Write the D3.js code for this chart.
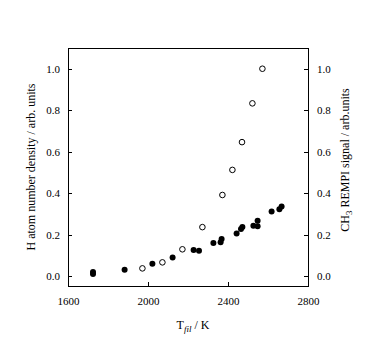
<!DOCTYPE html>
<html><head><meta charset="utf-8">
<script src="https://cdn.jsdelivr.net/npm/d3@7"></script>
<style>body{margin:0;background:#fff}svg text{font-family:"Liberation Serif","Times New Roman",serif;fill:#000}</style>
</head><body>
<svg id="c" width="380" height="357"></svg>
<script>
const filledT = [1725,1725,1883,2022,2123,2228,2255,2327,2363,2368,2443,2465,2472,2527,2548,2548,2618,2657,2668];
const filledV = [0.010,0.020,0.030,0.059,0.089,0.126,0.122,0.160,0.163,0.179,0.205,0.227,0.236,0.243,0.267,0.240,0.311,0.322,0.336];
const openT = [1972,2072,2172,2272,2372,2422,2470,2522,2572];
const openV = [0.037,0.066,0.129,0.236,0.391,0.512,0.646,0.833,1.000];
const xTicks = [1600,2000,2400,2800];
const yTicks = [0,0.2,0.4,0.6,0.8,1.0];

const L=68,R=308,T=48,B=286;
const svg=d3.select("#c");
const x=d3.scaleLinear().domain([1600,2800]).range([L,R]);
const y=d3.scaleLinear().domain([-0.048,1.10]).range([B,T]);

svg.append("rect").attr("x",L).attr("y",T).attr("width",R-L).attr("height",B-T)
  .attr("fill","none").attr("stroke","#000").attr("stroke-width",1).attr("shape-rendering","crispEdges");

function styleAxis(g){g.select(".domain").remove();g.selectAll("line").attr("stroke","#000").attr("shape-rendering","crispEdges");
  g.selectAll("text").style("font-size","11px").style("font-family","Liberation Serif");}

svg.append("g").attr("transform",`translate(0,${B})`)
  .call(d3.axisTop(x).tickValues(xTicks).tickSize(4).tickFormat(d3.format("d")))
  .call(styleAxis).call(g=>g.selectAll("text").attr("y",19).attr("dy","0"));
svg.append("g").attr("transform",`translate(${L},0)`)
  .call(d3.axisRight(y).tickValues(yTicks).tickSize(4).tickFormat(d3.format(".1f")))
  .call(styleAxis).call(g=>g.selectAll("text").attr("x",-8).attr("text-anchor","end"));
svg.append("g").attr("transform",`translate(${R},0)`)
  .call(d3.axisLeft(y).tickValues(yTicks).tickSize(4).tickFormat(d3.format(".1f")))
  .call(styleAxis).call(g=>g.selectAll("text").attr("x",9).attr("text-anchor","start"));

const fd=filledT.map((t,i)=>({t,v:filledV[i]}));
const od=openT.map((t,i)=>({t,v:openV[i]}));
svg.append("g").selectAll("circle").data(od).join("circle")
  .attr("cx",d=>x(d.t)).attr("cy",d=>y(d.v)).attr("r",2.8)
  .attr("fill","#fff").attr("stroke","#000").attr("stroke-width",1);
svg.append("g").selectAll("circle").data(fd).join("circle")
  .attr("cx",d=>x(d.t)).attr("cy",d=>y(d.v)).attr("r",3).attr("fill","#000");

// x title
const xt=svg.append("text").attr("x",193).attr("y",329).attr("text-anchor","middle").style("font-size","12px");
xt.append("tspan").text("T");
xt.append("tspan").attr("dy",3).style("font-size","9px").style("font-style","italic").text("fil");
xt.append("tspan").attr("dy",-3).text(" / K");

svg.append("text").attr("transform","translate(35,167) rotate(-90)").attr("text-anchor","middle")
  .style("font-size","12px").text("H atom number density / arb. units");
const rt=svg.append("text").attr("transform","translate(349,160) rotate(-90)").attr("text-anchor","middle").style("font-size","12px");
rt.append("tspan").text("CH");
rt.append("tspan").attr("dy",3).style("font-size","9px").text("3");
rt.append("tspan").attr("dy",-3).text(" REMPI signal / arb.units");
</script>
</body></html>
